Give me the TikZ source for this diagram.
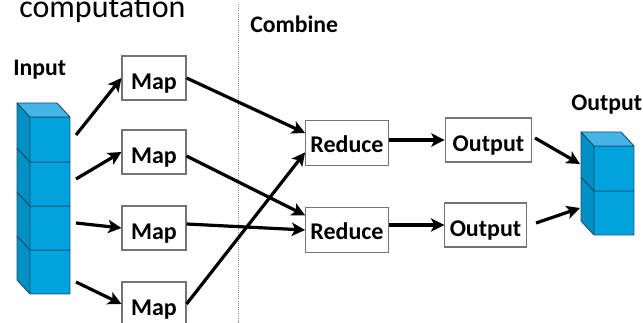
\documentclass[tikz,border=0pt]{standalone}
\usepackage{fontspec}
\setmainfont{Carlito}
\usepackage{xcolor}
\usepackage{tikz}
\usetikzlibrary{positioning, arrows.meta}
\definecolor{cubefront}{HTML}{00A3DD}
\definecolor{cubetop}{HTML}{45B5E8}
\definecolor{cubeside}{HTML}{0090C4}
\definecolor{cubeedge}{HTML}{15506F}
\tikzset{
  stage/.style={draw=black!55, line width=0.8pt, fill=white, font=\fontsize{18}{20}\selectfont\bfseries, inner sep=0pt, text height=17.5pt, text depth=0pt},
  heading/.style={font=\fontsize{17.8}{20}\selectfont\bfseries, inner sep=0pt},
  flow/.style={-{Stealth[length=10pt,width=10pt,inset=2.5pt]}, line width=2.4pt, black},
  cube/.style={draw=cubeedge, line width=0.7pt, line join=round}
}
% one block of a stack: left back x, top back y, front height
\newcommand{\stackcell}[3]{
  \fill[cubefront] (#1+13,#2+14) rectangle (#1+53,#2+14+#3);
  \fill[cubeside] (#1,#2) -- (#1+13,#2+14) -- (#1+13,#2+14+#3) -- (#1,#2+#3) -- cycle;
  \draw[cube] (#1,#2) -- (#1+13,#2+14) -- (#1+53,#2+14) (#1+13,#2+14) -- (#1+13,#2+14+#3) -- (#1+53,#2+14+#3) -- (#1+53,#2+14) (#1,#2) -- (#1,#2+#3) -- (#1+13,#2+14+#3);
}
\newcommand{\stacktop}[2]{
  \fill[cubetop] (#1,#2) -- (#1+40,#2) -- (#1+53,#2+14) -- (#1+13,#2+14) -- cycle;
  \draw[cube] (#1,#2) -- (#1+40,#2) -- (#1+53,#2+14) -- (#1+13,#2+14) -- cycle;
}
\begin{document}
\begin{tikzpicture}[x=0.75pt, y=-0.75pt]
  \useasboundingbox (0,0) rectangle (643,323);
  \clip (0,0) rectangle (643,323);
  \draw[black!45, densely dotted, line width=0.6pt] (238,4) -- (238,323);

  \node[anchor=base west, inner sep=0pt, font=\fontsize{24}{26}\selectfont] (title) at (19,17.5) {computation};
  \node[heading, anchor=base west] (combine) at (250,33) {Combine};
  \node[heading, anchor=base west] (inlabel) at (13,76) {Input};
  \node[heading, anchor=base west] (outlabel) at (571,111) {Output};

  % input stack
  \stackcell{17}{236}{44}
  \stackcell{17}{192}{44}
  \stackcell{17}{148}{44}
  \stackcell{17}{103}{45}
  \stacktop{17}{103}
  % output stack
  \stackcell{581}{177}{44}
  \stackcell{581}{132}{45}
  \stacktop{581}{132}

  \node[stage, minimum width=48pt, minimum height=33pt] (map1) at (154,78) {Map};
  \node[stage, minimum width=48pt, minimum height=33pt] (map2) at (154,152) {Map};
  \node[stage, minimum width=48pt, minimum height=33pt] (map3) at (154,228) {Map};
  \node[stage, minimum width=48pt, minimum height=33pt] (map4) at (154,304) {Map};
  \node[stage, minimum width=62pt, minimum height=34pt, text height=14pt] (reduce1) at (347,143) {Reduce};
  \node[stage, minimum width=62pt, minimum height=34pt, text height=14.5pt] (reduce2) at (347,230) {Reduce};
  \node[stage, minimum width=65pt, minimum height=33pt] (output1) at (488.5,140) {Output};
  \node[stage, minimum width=61pt, minimum height=33pt] (output2) at (485.5,225) {Output};

  \coordinate (in1) at (76,135);
  \coordinate (in2) at (76,179);
  \coordinate (in3) at (76,223);
  \coordinate (in4) at (76,282);
  \coordinate (out1) at (580,164);
  \coordinate (out2) at (580,208);

  \draw[flow] (in1) -- (map1.west);
  \draw[flow] (in2) -- (map2.west);
  \draw[flow] (in3) -- (map3.west);
  \draw[flow] (in4) -- (map4.west);
  \draw[flow] (map1.east) -- ([yshift=7.5pt]reduce1.west);
  \draw[flow] ([yshift=-3pt]map2.east) -- ([yshift=11pt]reduce2.west);
  \draw[flow] ([yshift=3pt]map3.east) -- (reduce2.west);
  \draw[flow] (map4.east) -- ([yshift=-7pt]reduce1.west);
  \draw[flow] (reduce1.east |- output1.west) -- (output1.west);
  \draw[flow] (reduce2.east |- output2.west) -- (output2.west);
  \draw[flow] ([xshift=2pt,yshift=1.5pt]output1.east) -- (out1);
  \draw[flow] ([xshift=7pt,yshift=1.5pt]output2.east) -- (out2);
\end{tikzpicture}
\end{document}
